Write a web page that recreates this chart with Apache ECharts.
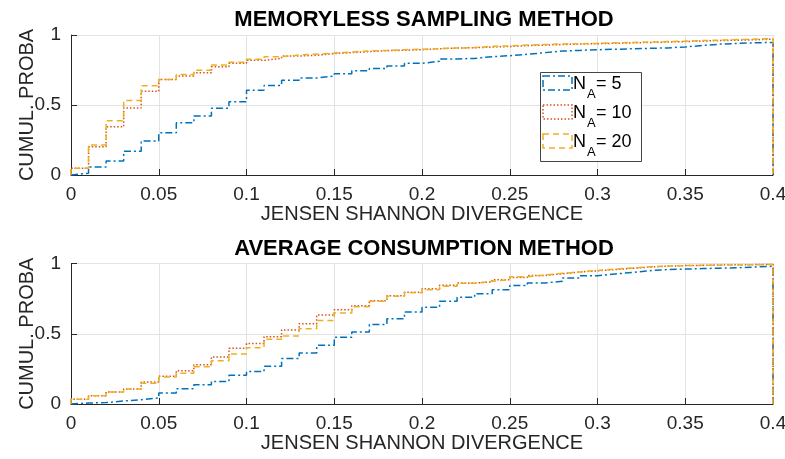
<!DOCTYPE html>
<html><head><meta charset="utf-8">
<script src="https://cdn.jsdelivr.net/npm/echarts@6/dist/echarts.min.js"></script>
<style>html,body{margin:0;padding:0;background:#fff}#c{width:785px;height:459px}</style>
</head><body><div id="c"></div>
<script>
const titles = ['MEMORYLESS SAMPLING METHOD', 'AVERAGE CONSUMPTION METHOD'];
const xName = 'JENSEN SHANNON DIVERGENCE';
const yName = 'CUMUL. PROBA';
const seriesNames = ['N_A= 5', 'N_A= 10', 'N_A= 20'];
const binWidth = 0.01;
const xMax = 0.4;
const topBlue = [0.012, 0.057, 0.10, 0.169, 0.243, 0.302, 0.374, 0.421, 0.476, 0.524, 0.606, 0.64, 0.676, 0.693, 0.707, 0.724, 0.745, 0.76, 0.779, 0.798, 0.812, 0.829, 0.833, 0.845, 0.852, 0.862, 0.874, 0.885, 0.89, 0.895, 0.898, 0.902, 0.905, 0.908, 0.915, 0.925, 0.935, 0.94, 0.944, 0.947];
const topRed = [0.048, 0.202, 0.345, 0.479, 0.598, 0.683, 0.707, 0.731, 0.774, 0.798, 0.819, 0.833, 0.85, 0.855, 0.867, 0.874, 0.881, 0.888, 0.891, 0.895, 0.902, 0.907, 0.909, 0.914, 0.918, 0.924, 0.928, 0.932, 0.935, 0.938, 0.941, 0.944, 0.947, 0.95, 0.953, 0.957, 0.96, 0.963, 0.966, 0.97];
const topOrange = [0.048, 0.214, 0.388, 0.533, 0.638, 0.683, 0.717, 0.748, 0.786, 0.805, 0.826, 0.845, 0.857, 0.864, 0.871, 0.879, 0.886, 0.89, 0.895, 0.898, 0.902, 0.907, 0.91, 0.919, 0.922, 0.928, 0.932, 0.936, 0.938, 0.94, 0.944, 0.947, 0.95, 0.953, 0.956, 0.96, 0.963, 0.967, 0.971, 0.975];
const botBlue = [0.007, 0.01, 0.021, 0.031, 0.043, 0.078, 0.109, 0.137, 0.161, 0.204, 0.232, 0.268, 0.323, 0.363, 0.418, 0.475, 0.512, 0.565, 0.607, 0.655, 0.688, 0.731, 0.759, 0.785, 0.814, 0.843, 0.862, 0.873, 0.897, 0.913, 0.925, 0.937, 0.949, 0.957, 0.96, 0.964, 0.967, 0.97, 0.975, 0.98];
const botRed = [0.033, 0.059, 0.085, 0.107, 0.157, 0.197, 0.237, 0.28, 0.335, 0.396, 0.43, 0.479, 0.527, 0.572, 0.633, 0.671, 0.7, 0.735, 0.771, 0.795, 0.821, 0.845, 0.861, 0.87, 0.885, 0.9, 0.915, 0.927, 0.94, 0.948, 0.957, 0.966, 0.975, 0.981, 0.985, 0.987, 0.99, 0.991, 0.992, 0.994];
const botOrange = [0.033, 0.059, 0.085, 0.107, 0.147, 0.192, 0.218, 0.265, 0.308, 0.356, 0.401, 0.46, 0.484, 0.536, 0.595, 0.648, 0.693, 0.731, 0.767, 0.792, 0.814, 0.838, 0.859, 0.873, 0.886, 0.905, 0.918, 0.93, 0.94, 0.95, 0.96, 0.968, 0.976, 0.982, 0.985, 0.987, 0.989, 0.99, 0.991, 0.993];

const colors = ['#0072BD', '#D95319', '#EDB120'];
const dashes = [[7, 3, 2, 3], [1.5, 2], [6, 4]];
const FONT = '"Liberation Sans", Arial, Helvetica, sans-serif';
const TXT = '#262626';

function stairs(vals) {
  const d = [[0, 0]];
  vals.forEach((v, k) => d.push([k * binWidth, v]));
  d.push([xMax, vals[vals.length - 1]]);
  d.push([xMax, 0]);
  return d;
}

const grids = [
  {left: 71, width: 702, top: 35, height: 140, containLabel: false, outerBoundsMode: 'none'},
  {left: 71, width: 702, top: 263.5, height: 140.5, containLabel: false, outerBoundsMode: 'none'}
];
const seriesSets = [[topBlue, topRed, topOrange], [botBlue, botRed, botOrange]];

const series = [];
seriesSets.forEach((set, g) => {
  set.forEach((vals, i) => {
    series.push({
      name: seriesNames[i], type: 'line', step: 'end', xAxisIndex: g, yAxisIndex: g,
      data: stairs(vals), showSymbol: false, symbol: 'none', clip: false, animation: false,
      lineStyle: {color: colors[i], width: 1.5, type: dashes[i]},
      itemStyle: {color: colors[i]}
    });
  });
});

const xAxes = grids.map((_, g) => ({
  type: 'value', gridIndex: g, min: 0, max: xMax, interval: 0.05,
  name: xName, nameLocation: 'middle', nameGap: 29, nameMoveOverlap: false,
  nameTextStyle: {fontFamily: FONT, fontSize: 20, color: TXT},
  axisLine: {show: true, lineStyle: {color: TXT, width: 1}},
  axisTick: {show: true, inside: true, length: 6, lineStyle: {color: TXT}},
  axisLabel: {fontFamily: FONT, fontSize: 19, color: TXT, margin: 10, formatter: v => String(+v.toFixed(2))},
  splitLine: {show: true, lineStyle: {color: '#e3e3e3', width: 1}}
}));
const yAxes = grids.map((_, g) => ({
  type: 'value', gridIndex: g, min: 0, max: 1, interval: 0.5,
  name: yName, nameLocation: 'middle', nameGap: 34, nameRotate: 90, nameMoveOverlap: false,
  nameTextStyle: {fontFamily: FONT, fontSize: 20, color: TXT},
  axisLine: {show: true, lineStyle: {color: TXT, width: 1}},
  axisTick: {show: true, inside: true, length: 6, lineStyle: {color: TXT}},
  axisLabel: {fontFamily: FONT, fontSize: 19, color: TXT, margin: 10, formatter: v => String(v)},
  splitLine: {show: true, lineStyle: {color: '#e3e3e3', width: 1}}
}));

// legend drawn as graphic elements (box + stair-style icons + subscripted labels)
const LEG = {x: 540, y: 72, w: 101, h: 89, rowH: 29};
const legendEls = [{
  type: 'rect', z: 10, shape: {x: LEG.x + 0.5, y: LEG.y + 0.5, width: LEG.w, height: LEG.h},
  style: {fill: '#fff', stroke: '#444', lineWidth: 1}
}];
seriesNames.forEach((n, i) => {
  const [main, rest] = n.split('_A');
  const top = LEG.y + 4 + i * LEG.rowH;
  legendEls.push({
    type: 'rect', z: 11, shape: {x: LEG.x + 3, y: top, width: 29, height: 14},
    style: {fill: 'none', stroke: colors[i], lineWidth: 1.5, lineDash: dashes[i]}
  });
  legendEls.push({type: 'text', z: 11, x: LEG.x + 33, y: top + 8,
    style: {text: main, fontFamily: FONT, fontSize: 18, fill: '#000', verticalAlign: 'middle'}});
  legendEls.push({type: 'text', z: 11, x: LEG.x + 47, y: top + 18,
    style: {text: 'A', fontFamily: FONT, fontSize: 13, fill: '#000', verticalAlign: 'middle'}});
  legendEls.push({type: 'text', z: 11, x: LEG.x + 56, y: top + 8,
    style: {text: rest, fontFamily: FONT, fontSize: 18, fill: '#000', verticalAlign: 'middle'}});
});

const chart = echarts.init(document.getElementById('c'), null, {renderer: 'canvas'});
chart.setOption({
  backgroundColor: '#fff',
  animation: false,
  title: titles.map((t, g) => ({
    text: t, left: 419, top: g === 0 ? 4 : 233, textAlign: 'center',
    textStyle: {fontFamily: FONT, fontSize: 22, fontWeight: 'bold', color: '#000'}
  })),
  grid: grids,
  xAxis: xAxes,
  yAxis: yAxes,
  graphic: {elements: legendEls},
  series: series
});
</script>
</body></html>
